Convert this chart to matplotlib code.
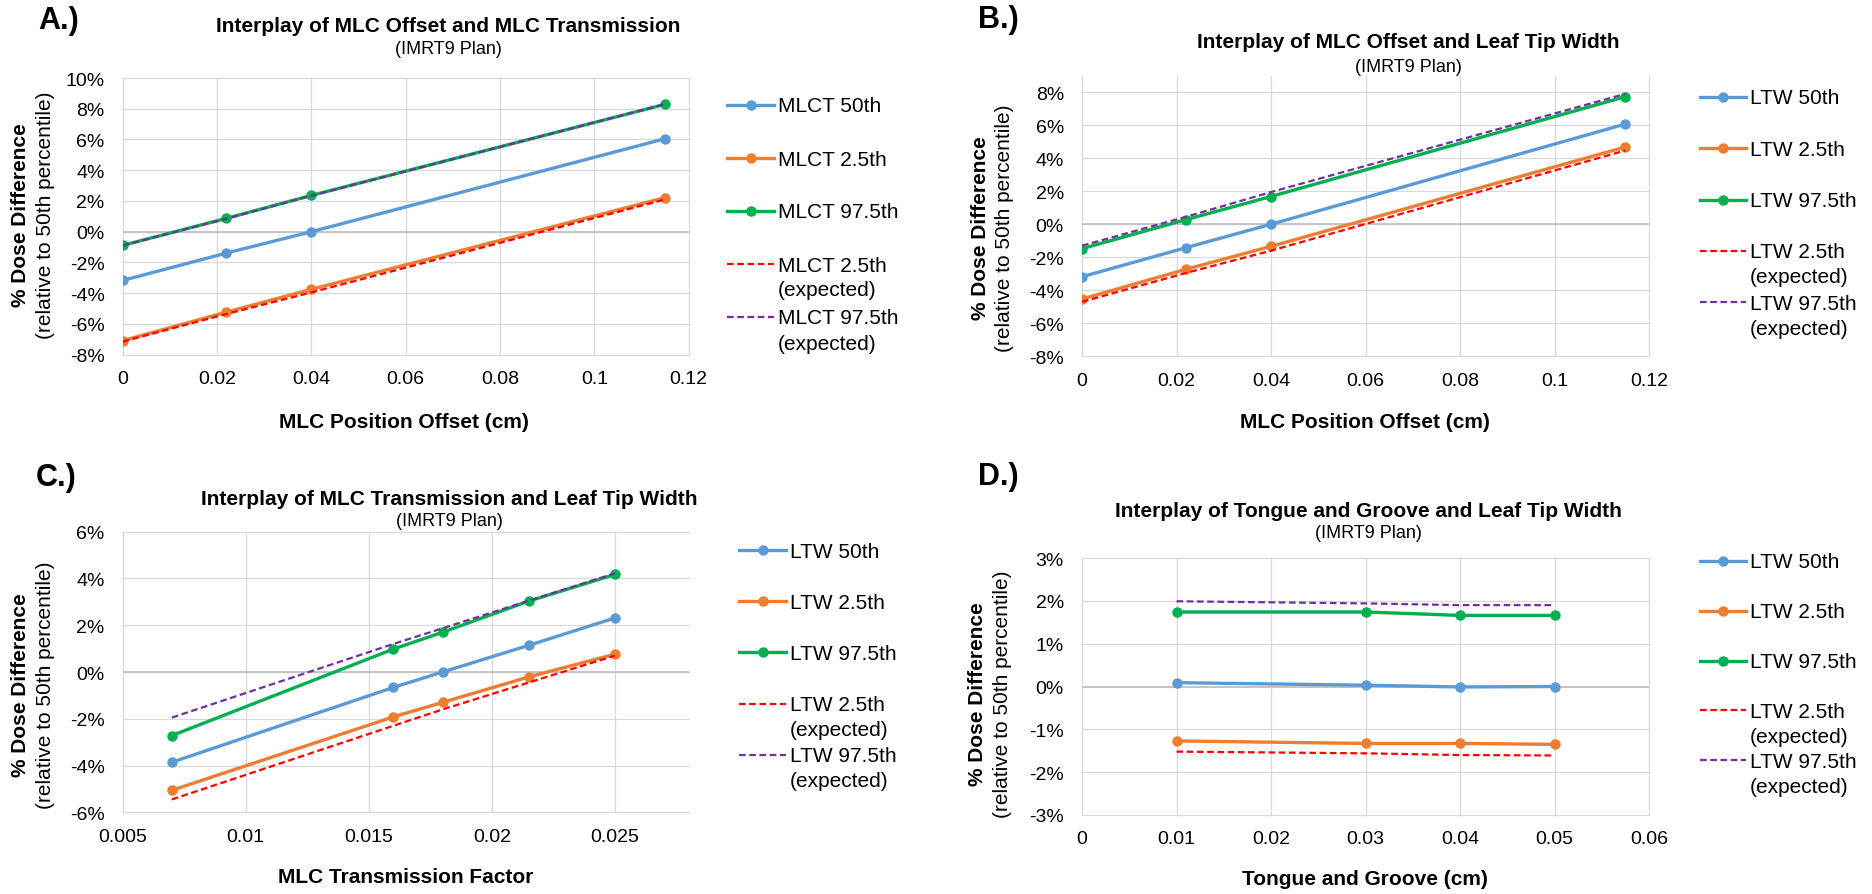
import matplotlib
matplotlib.use('Agg')
import matplotlib.pyplot as plt
from matplotlib.lines import Line2D

plt.rcParams['font.family'] = ['Liberation Sans', 'DejaVu Sans']

W, H = 1872, 895

# ---- dados (valores em %) ----
off_x = [0, 0.022, 0.04, 0.115]

a_50 = [-3.17, -1.39, 0.0, 6.05]
a_25 = [-7.09, -5.23, -3.75, 2.22]
a_975 = [-0.89, 0.87, 2.36, 8.29]
a_25_exp = [-7.15, -5.35, -3.95, 2.10]
a_975_exp = [-0.90, 0.85, 2.34, 8.30]

b_50 = [-3.18, -1.42, 0.0, 6.07]
b_25 = [-4.53, -2.73, -1.34, 4.68]
b_975 = [-1.48, 0.28, 1.68, 7.73]
b_25_exp = [-4.70, -2.95, -1.60, 4.47]
b_975_exp = [-1.30, 0.45, 1.95, 7.90]

trans_x = [0.007, 0.016, 0.018, 0.0215, 0.025]
c_50 = [-3.86, -0.66, 0.0, 1.14, 2.31]
c_25 = [-5.06, -1.92, -1.30, -0.21, 0.76]
c_975 = [-2.72, 0.98, 1.70, 3.03, 4.17]
c_25_exp = [-5.45, -2.30, -1.60, -0.45, 0.70]
c_975_exp = [-1.95, 1.20, 1.87, 3.05, 4.22]

tg_x = [0.01, 0.03, 0.04, 0.05]
d_50 = [0.09, 0.03, -0.01, 0.0]
d_25 = [-1.27, -1.33, -1.33, -1.35]
d_975 = [1.74, 1.74, 1.66, 1.66]
d_25_exp = [-1.52, -1.56, -1.60, -1.61]
d_975_exp = [1.99, 1.94, 1.90, 1.90]

names_mlct = ['MLCT 50th', 'MLCT 2.5th', 'MLCT 97.5th', 'MLCT 2.5th\n(expected)', 'MLCT 97.5th\n(expected)']
names_ltw = ['LTW 50th', 'LTW 2.5th', 'LTW 97.5th', 'LTW 2.5th\n(expected)', 'LTW 97.5th\n(expected)']

# ---- estilos ----
BLUE, ORANGE, GREEN, RED, PURPLE = '#5B9BD5', '#ED7D31', '#00B050', '#FF0000', '#7030A0'
styles = [
    dict(color=BLUE, lw=2.4, marker='o', ms=6.5, ls='-'),
    dict(color=ORANGE, lw=2.4, marker='o', ms=6.5, ls='-'),
    dict(color=GREEN, lw=2.4, marker='o', ms=6.5, ls='-'),
    dict(color=RED, lw=1.6, marker=None, ms=0, ls=(0, (3, 1.6))),
    dict(color=PURPLE, lw=1.6, marker=None, ms=0, ls=(0, (3, 1.6))),
]


def fx(x):
    return x / W


def fy(y):
    return 1 - y / H


fig = plt.figure(figsize=(W / 100, H / 100), dpi=100)


def painel(box, x, series, names, xlim, xticks, ylim, yticks, titulo, xlabel,
           letra, letra_pos, tit_pos, ylab_pos, xlab_pos, leg):
    l, r, t, b = box
    ax = fig.add_axes([fx(l), fy(b), (r - l) / W, (b - t) / H])
    for ys, st in zip(series, styles):
        ax.plot(x, ys, color=st['color'], lw=st['lw'], ls=st['ls'],
                marker=st['marker'], ms=st['ms'], zorder=3)
    # ordem de desenho: esperadas por cima
    ax.set_xlim(*xlim)
    ax.set_ylim(*ylim)
    ax.set_xticks(xticks)
    ax.set_xticklabels([f'{v:g}' for v in xticks])
    ax.set_yticks(yticks)
    ax.set_yticklabels([f'{v:g}%' for v in yticks])
    ax.tick_params(length=0, labelsize=14, pad=13)
    ax.tick_params(axis='x', pad=11)
    for s in ax.spines.values():
        s.set_visible(False)
    ax.grid(True, color='#D9D9D9', lw=0.9)
    for gl in ax.get_xgridlines() + ax.get_ygridlines():
        gl.set_clip_on(False)
    ax.axhline(0, color='#BFBFBF', lw=1.2, zorder=2)
    ax.set_axisbelow(True)

    # textos
    fig.text(fx(letra_pos[0]), fy(letra_pos[1]), letra, fontsize=22, fontweight='bold',
             ha='left', va='center')
    fig.text(fx(tit_pos[0]), fy(tit_pos[1]), titulo, fontsize=15, fontweight='bold',
             ha='center', va='center')
    fig.text(fx(tit_pos[0]), fy(tit_pos[2]), '(IMRT9 Plan)', fontsize=13,
             ha='center', va='center')
    fig.text(fx(ylab_pos[0]), fy(ylab_pos[2]), '% Dose Difference', fontsize=15,
             fontweight='bold', rotation=90, ha='center', va='center')
    fig.text(fx(ylab_pos[1]), fy(ylab_pos[2]), '(relative to 50th percentile)', fontsize=15,
             rotation=90, ha='center', va='center')
    fig.text(fx(xlab_pos[0]), fy(xlab_pos[1]), xlabel, fontsize=15, fontweight='bold',
             ha='center', va='center')

    # legenda manual
    x0, x1, xt, y0, passo = leg
    for i, (nome, st) in enumerate(zip(names, styles)):
        yy = y0 + i * passo
        fig.add_artist(Line2D([fx(x0), fx(x1)], [fy(yy), fy(yy)], color=st['color'],
                              lw=st['lw'], ls=st['ls'], transform=fig.transFigure))
        if st['marker']:
            fig.add_artist(Line2D([fx((x0 + x1) / 2)], [fy(yy)], color=st['color'],
                                  marker='o', ms=6.5, transform=fig.transFigure))
        for k, linha in enumerate(nome.split('\n')):
            fig.text(fx(xt), fy(yy + 1 + k * 25), linha, fontsize=15, ha='left', va='center')
    return ax


painel((122.6, 688.7, 79, 355.7), off_x, [a_50, a_25, a_975, a_25_exp, a_975_exp], names_mlct,
       (0, 0.12), [0, 0.02, 0.04, 0.06, 0.08, 0.1, 0.12], (-8, 10), list(range(-8, 11, 2)),
       'Interplay of MLC Offset and MLC Transmission', 'MLC Position Offset (cm)',
       'A.)', (38, 21), (448, 27, 50), (21, 46, 215), (404, 422),
       (727, 774, 778, 106, 53))

painel((1082, 1649, 76.7, 357.3), off_x, [b_50, b_25, b_975, b_25_exp, b_975_exp], names_ltw,
       (0, 0.12), [0, 0.02, 0.04, 0.06, 0.08, 0.1, 0.12], (-8, 9), list(range(-8, 9, 2)),
       'Interplay of MLC Offset and Leaf Tip Width', 'MLC Position Offset (cm)',
       'B.)', (978, 20), (1408, 43, 67), (981, 1004, 228), (1365, 423),
       (1700, 1746, 1750, 98, 51.3))

painel((122.6, 688.7, 532.7, 813.3), trans_x, [c_50, c_25, c_975, c_25_exp, c_975_exp], names_ltw,
       (0.005, 0.028), [0.005, 0.01, 0.015, 0.02, 0.025], (-6, 6), list(range(-6, 7, 2)),
       'Interplay of MLC Transmission and Leaf Tip Width', 'MLC Transmission Factor',
       'C.)', (36, 478), (449, 500, 522), (21, 46, 685), (406, 878),
       (739, 786, 790, 551, 51.2))

painel((1082, 1649, 559, 816), tg_x, [d_50, d_25, d_975, d_25_exp, d_975_exp], names_ltw,
       (0, 0.06), [0, 0.01, 0.02, 0.03, 0.04, 0.05, 0.06], (-3, 3), list(range(-3, 4, 1)),
       'Interplay of Tongue and Groove and Leaf Tip Width', 'Tongue and Groove (cm)',
       'D.)', (978, 477), (1368, 512, 533), (977, 1002, 694), (1365, 880),
       (1700, 1746, 1750, 562, 49.8))

fig.savefig('out.png', dpi=100, facecolor='white')
